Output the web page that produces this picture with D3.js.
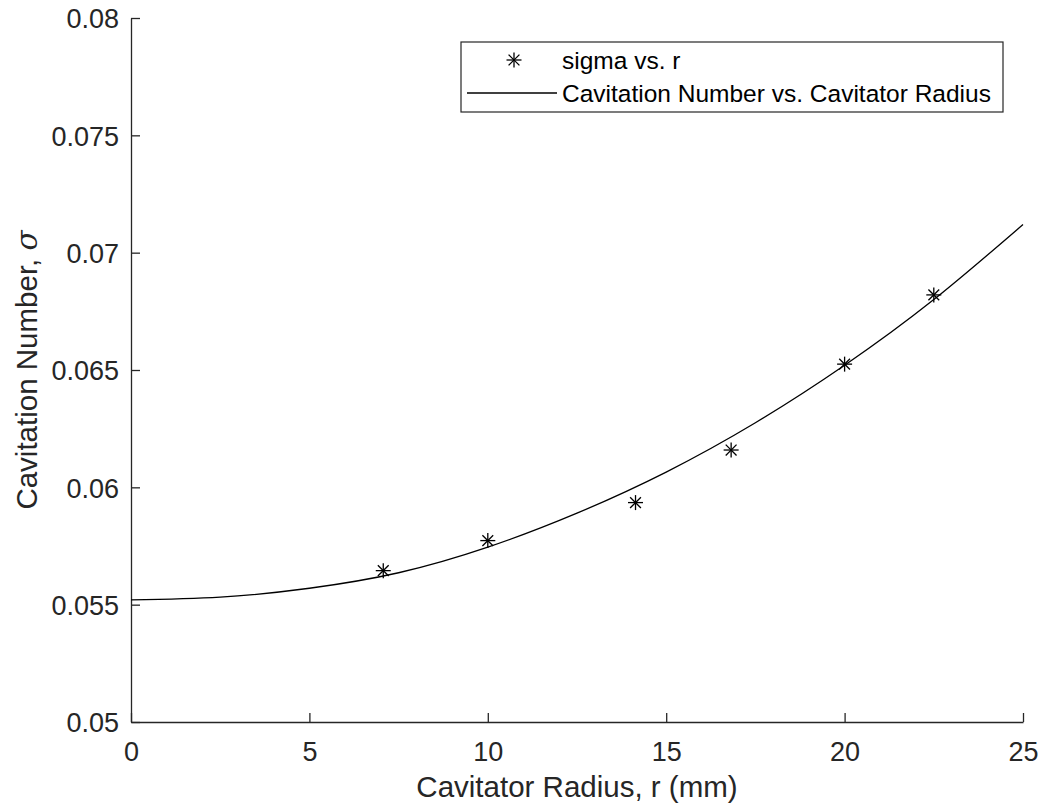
<!DOCTYPE html>
<html lang="en">
  <head>
    <meta charset="utf-8">
    <title>Cavitation Number vs. Cavitator Radius</title>
    <style>
      body { margin: 0; background: #fff; }
      svg { font-family: "Liberation Sans", Arial, sans-serif; }
      .axis path, .axis line { stroke: #262626; stroke-width: 1.3px; }
      .axis text { fill: #262626; font-size: 27px; }
      .fit { fill: none; stroke: #000; stroke-width: 1.3px; }
      .star { stroke: #000; stroke-width: 1.3px; }
    </style>
  </head>
  <body>
<script src="https://cdn.jsdelivr.net/npm/d3@7"></script>
<script>

// measured points (sigma vs. r)
const radius = [7.07, 10, 14.14, 16.82, 20, 22.5];
const sigma = [0.05645, 0.05773, 0.05935, 0.06159, 0.06525, 0.0682];

// fitted curve at a few radii
const fitR = [0, 2.5, 5, 7.5, 10, 12.5, 15, 17.5, 20, 22.5, 25];
const fitSigma = [0.0552, 0.05532, 0.0557, 0.05636, 0.05745, 0.0589, 0.06065, 0.06275, 0.0652, 0.0680, 0.0712];

const xTicks = [0, 5, 10, 15, 20, 25];
const yTicks = [0.05, 0.055, 0.06, 0.065, 0.07, 0.075, 0.08];

const legendLabels = ["sigma vs. r", "Cavitation Number vs. Cavitator Radius"];

const width = 1044, height = 811;
const margin = {top: 18, right: 21, bottom: 89, left: 131};

const svg = d3.select("body").append("svg")
    .attr("width", width)
    .attr("height", height);

const x = d3.scaleLinear().domain([0, 25]).range([margin.left, width - margin.right]);
const y = d3.scaleLinear().domain([0.05, 0.08]).range([height - margin.bottom, margin.top]);

// axes, ticks pointing inward (MATLAB style)
const xAxis = svg.append("g")
    .attr("class", "axis")
    .attr("transform", "translate(0," + y(0.05) + ")")
    .call(d3.axisBottom(x).tickValues(xTicks).tickSize(-9).tickSizeOuter(0).tickPadding(8).tickFormat(d3.format("d")));
xAxis.selectAll("text").attr("dy", "0.71em").attr("y", 20);

const yAxis = svg.append("g")
    .attr("class", "axis")
    .attr("transform", "translate(" + x(0) + ",0)")
    .call(d3.axisLeft(y).tickValues(yTicks).tickSize(-9).tickSizeOuter(0).tickFormat(d => String(+d.toFixed(3))));
yAxis.selectAll("text").attr("x", -12).attr("dy", "0.36em");

// axis labels
svg.append("text")
    .attr("x", (x(0) + x(25)) / 2)
    .attr("y", 797)
    .attr("text-anchor", "middle")
    .attr("fill", "#262626")
    .style("font-size", "29.5px")
    .text("Cavitator Radius, r (mm)");

const ylab = svg.append("text")
    .attr("transform", "translate(37," + ((y(0.05) + y(0.08)) / 2) + ") rotate(-90)")
    .attr("text-anchor", "middle")
    .attr("fill", "#262626")
    .style("font-size", "29.5px");
ylab.append("tspan").text("Cavitation Number, ");
ylab.append("tspan").attr("font-family", "'DejaVu Serif', serif").attr("font-style", "italic").text("σ");

// fitted curve
const line = d3.line()
    .x((d, i) => x(fitR[i]))
    .y(d => y(d))
    .curve(d3.curveNatural);

svg.append("path")
    .attr("class", "fit")
    .attr("d", line(fitSigma));

// asterisk markers
function star(g, r) {
  const a = r * 0.72;
  g.append("line").attr("x1", -r).attr("x2", r).attr("y1", 0).attr("y2", 0);
  g.append("line").attr("x1", 0).attr("x2", 0).attr("y1", -r).attr("y2", r);
  g.append("line").attr("x1", -a).attr("x2", a).attr("y1", -a).attr("y2", a);
  g.append("line").attr("x1", -a).attr("x2", a).attr("y1", a).attr("y2", -a);
}

svg.selectAll("g.star")
    .data(sigma)
  .enter().append("g")
    .attr("class", "star")
    .attr("transform", (d, i) => "translate(" + x(radius[i]) + "," + y(d) + ")")
    .each(function() { star(d3.select(this), 7.5); });

// legend
const legend = svg.append("g").attr("transform", "translate(461,42)");
legend.append("rect")
    .attr("width", 542).attr("height", 70)
    .attr("fill", "#fff").attr("stroke", "#262626").attr("stroke-width", 1.2);

const s = legend.append("g").attr("class", "star").attr("transform", "translate(53,18)");
star(s, 7.5);
legend.append("line").attr("class", "fit")
    .attr("x1", 6).attr("x2", 96).attr("y1", 51).attr("y2", 51);

legend.selectAll("text.leg")
    .data(legendLabels)
  .enter().append("text")
    .attr("class", "leg")
    .attr("x", 101)
    .attr("y", (d, i) => 18 + i * 33)
    .attr("dy", "0.35em")
    .attr("fill", "#000")
    .style("font-size", "24.5px")
    .text(d => d);

</script>
  </body>
</html>
